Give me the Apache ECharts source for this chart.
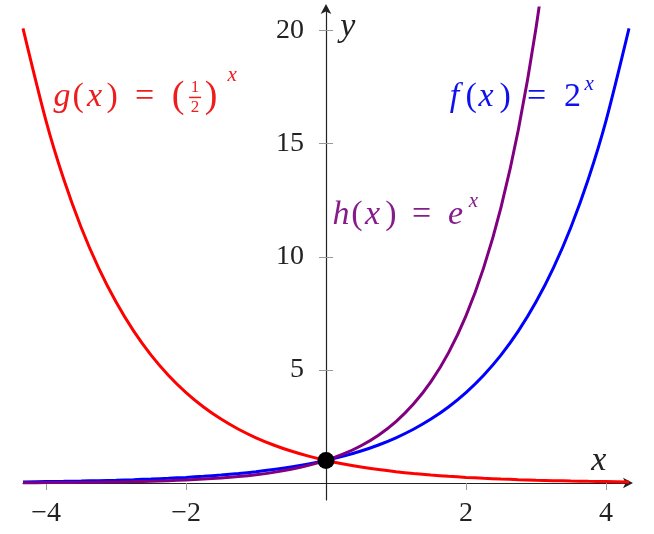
<!DOCTYPE html>
<html><head><meta charset="utf-8">
<script src="https://cdn.jsdelivr.net/npm/echarts@6/dist/echarts.min.js"></script>
<style>html,body{margin:0;padding:0;background:#fff}#c{width:654px;height:534px}</style>
</head><body><div id="c"></div>
<script>
// sampled x positions
const xs = [-4.33,-4,-3.75,-3.5,-3.25,-3,-2.75,-2.5,-2.25,-2,-1.75,-1.5,-1.25,-1,-0.75,-0.5,-0.25,0,0.25,0.5,0.75,1,1.25,1.5,1.75,2,2.25,2.5,2.75,3,3.25,3.5,3.75,4,4.33];
// f(x) = 2^x (blue)
const fVals = [0.050,0.0625,0.074,0.088,0.105,0.125,0.149,0.177,0.210,0.25,0.297,0.354,0.420,0.5,0.595,0.707,0.841,1,1.189,1.414,1.682,2,2.378,2.828,3.364,4,4.757,5.657,6.727,8,9.514,11.31,13.45,16,20.1];
// g(x) = (1/2)^x (red)
const gVals = [20.1,16,13.45,11.31,9.514,8,6.727,5.657,4.757,4,3.364,2.828,2.378,2,1.682,1.414,1.189,1,0.841,0.707,0.595,0.5,0.420,0.354,0.297,0.25,0.210,0.177,0.149,0.125,0.105,0.088,0.074,0.0625,0.050];
// h(x) = e^x (purple), sampled until it leaves the top
const hVals = [0.0132,0.0183,0.0235,0.0302,0.0388,0.0498,0.0639,0.0821,0.105,0.135,0.174,0.223,0.287,0.368,0.472,0.607,0.779,1,1.284,1.649,2.117,2.718,3.49,4.482,5.755,7.389,9.488,12.18,15.64,20.09,25.79];
const point = [[0, 1]];
const xTicks = [-4, -2, 2, 4];
const yTicks = [5, 10, 15, 20];

const FONT = '"Liberation Serif", "DejaVu Serif", serif';
const pairs = vals => vals.map((v, i) => [xs[i], v]);

const X_MIN = -4.33, X_MAX = 4.33, Y_MIN = -0.75, Y_MAX = 21;
const G = { left: 23, right: 25, top: 8, bottom: 34 };
const W = 654, H = 534;
const plotW = W - G.left - G.right, plotH = H - G.top - G.bottom;
const zeroFromLeft = (0 - X_MIN) / (X_MAX - X_MIN) * plotW;
const zeroFromBottom = (0 - Y_MIN) / (Y_MAX - Y_MIN) * plotH;

const chart = echarts.init(document.getElementById('c'));
const lineSeries = (name, vals, color) => ({
  name, type: 'line', data: pairs(vals), showSymbol: false, smooth: 0.3,
  lineStyle: { color, width: 3 }, clip: true, silent: true
});
const baseX = { type: 'value', min: X_MIN, max: X_MAX, splitLine: { show: false } };
const baseY = { type: 'value', min: Y_MIN, max: Y_MAX, splitLine: { show: false } };
const tickStyle = { color: '#999', width: 1 };
const option = {
  animation: false,
  grid: Object.assign({ outerBoundsMode: 'none', containLabel: false }, G),
  xAxis: [
    Object.assign({}, baseX, {
      axisLine: { onZero: true, lineStyle: { color: '#222', width: 1.2 }, symbol: ['none', 'arrow'], symbolSize: [8, 10], symbolOffset: [0, 4] },
      axisTick: { show: true, length: 7, customValues: xTicks, lineStyle: tickStyle },
      axisLabel: { show: false }
    }),
    Object.assign({}, baseX, {
      axisLine: { show: false, onZero: true },
      axisTick: { show: true, inside: true, length: 7, customValues: xTicks, lineStyle: tickStyle },
      axisLabel: { show: false }
    }),
    Object.assign({}, baseX, {
      position: 'bottom', offset: -zeroFromBottom,
      axisLine: { show: false, onZero: false },
      axisTick: { show: false },
      axisLabel: { customValues: xTicks, margin: 17, color: '#222', fontFamily: FONT, fontSize: 28,
        formatter: v => String(v).replace('-', '\u2212') }
    })
  ],
  yAxis: [
    Object.assign({}, baseY, {
      position: 'left',
      axisLine: { onZero: true, lineStyle: { color: '#222', width: 1.2 }, symbol: ['none', 'arrow'], symbolSize: [8, 10], symbolOffset: [0, 4] },
      axisTick: { show: true, length: 7, customValues: yTicks, lineStyle: tickStyle },
      axisLabel: { show: false }
    }),
    Object.assign({}, baseY, {
      position: 'left',
      axisLine: { show: false, onZero: true },
      axisTick: { show: true, inside: true, length: 7, customValues: yTicks, lineStyle: tickStyle },
      axisLabel: { show: false }
    }),
    Object.assign({}, baseY, {
      position: 'left', offset: -zeroFromLeft,
      axisLine: { show: false, onZero: false },
      axisTick: { show: false },
      axisLabel: { customValues: yTicks, margin: 22, color: '#222', fontFamily: FONT, fontSize: 28 }
    })
  ],
  series: [
    lineSeries('f', fVals, '#0000ff'),
    lineSeries('h', hVals, '#800080'),
    lineSeries('g', gVals, '#ff0000'),
    { type: 'scatter', data: point, symbol: 'circle', symbolSize: 17, itemStyle: { color: '#000', opacity: 1 }, z: 10, silent: true }
  ]
};
chart.setOption(option);

// math-like labels (glyph centres relative to an anchor)
function txt(t, dx, dy, size, italic, color) {
  return { type: 'text', x: dx, y: dy, style: { text: t, fill: color, fontFamily: FONT, fontSize: size,
    fontStyle: italic ? 'italic' : 'normal', verticalAlign: 'middle', align: 'center' } };
}
function group(dataPt, children) {
  const p = chart.convertToPixel({ gridIndex: 0 }, dataPt);
  return { type: 'group', x: p[0], y: p[1], children, silent: true };
}
const red = '#ee1c1c', blue = '#1010ee', purple = '#851c8c';
const S = 34;
const graphics = [
  group([-3.9, 17.08], [
    txt('g', 9, 0, S, true, red), txt('(', 25, 0, S, false, red), txt('x', 41.5, 0, S, true, red),
    txt(')', 59, 0, S, false, red), txt('=', 91.5, 0, S, false, red),
    txt('(', 125, 0, 38, false, red),
    txt('1', 142, -9, 17, false, red),
    { type: 'rect', shape: { x: 136, y: 0, width: 12, height: 1.5 }, style: { fill: red } },
    txt('2', 142, 11, 17, false, red),
    txt(')', 158, 0, 38, false, red),
    txt('x', 179, -21, 21, true, red)
  ]),
  group([1.73, 17.05], [
    txt('f', 7.5, 0, S, true, blue), txt('(', 24, 0, S, false, blue), txt('x', 39, 0, S, true, blue),
    txt(')', 58, 0, S, false, blue), txt('=', 89.5, 0, S, false, blue),
    txt('2', 125.5, 0, S, false, blue), txt('x', 142, -13, 21, true, blue)
  ]),
  group([0.086, 11.85], [
    txt('h', 9, 0, S, true, purple), txt('(', 25, 0, S, false, purple), txt('x', 40.5, 0, S, true, purple),
    txt(')', 59, 0, S, false, purple), txt('=', 89.5, 0, S, false, purple),
    txt('e', 123.5, 0, S, true, purple), txt('x', 141.5, -13, 21, true, purple)
  ]),
  group([0.31, 20.15], [ txt('y', 0, 0, S, true, '#222') ]),
  group([3.9, 0.97], [ txt('x', 0, 0, S, true, '#222') ])
];
chart.setOption({ graphic: graphics });
</script>
</body></html>
